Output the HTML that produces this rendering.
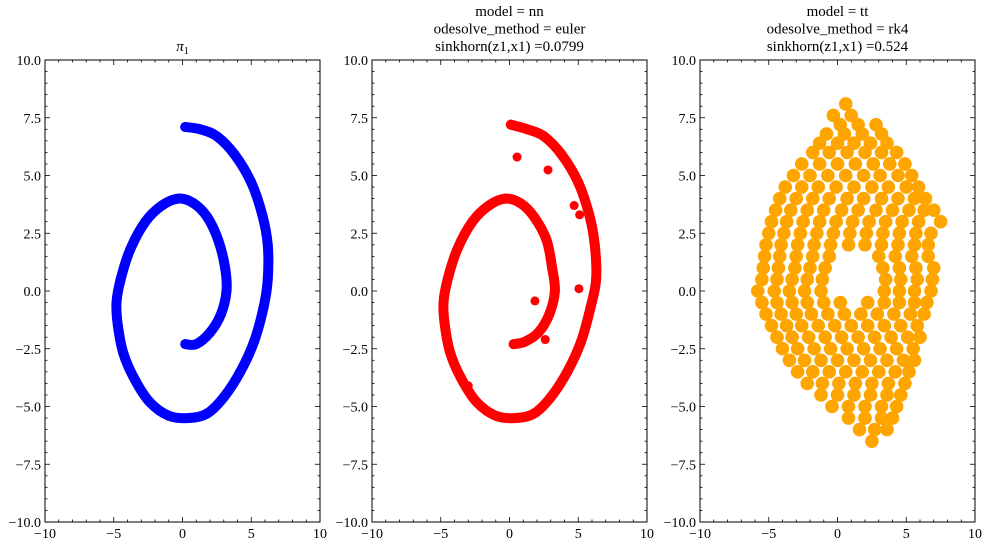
<!DOCTYPE html>
<html><head><meta charset="utf-8"><style>
body{margin:0;background:#fff}
svg{display:block;font-family:"Liberation Serif","DejaVu Serif",serif}
</style></head><body>
<svg id="fig" width="987" height="544" viewBox="0 0 987 544"></svg>
<script>
// ---- data ----
const xTicks=[-10,-5,0,5,10];
const yTicks=[-10,-7.5,-5,-2.5,0,2.5,5,7.5,10];
const yTickLabels=["\u221210.0","\u22127.5","\u22125.0","\u22122.5","0.0","2.5","5.0","7.5","10.0"];
const xTickLabels=["\u221210","\u22125","0","5","10"];
const spiralX=[0.2,1,2,2.8,3.2,3.1,2.6,1.8,0.8,-0.3,-1.5,-2.7,-3.8,-4.5,-4.8,-4.7,-4.3,-3.5,-2.4,-1,0.5,1.8,3,4.2,5.2,5.9,6.2,6.2,5.8,5,3.8,2.5,1.3,0.2];
const spiralY=[-2.3,-2.3,-1.8,-1.0,0,1.0,2.2,3.2,3.8,4.0,3.7,3.0,1.8,0.5,-0.5,-1.5,-2.7,-3.8,-4.8,-5.4,-5.5,-5.3,-4.6,-3.5,-2.2,-0.7,0.5,2,3.3,4.7,5.9,6.7,7.0,7.1];
const nnX=[0.3,1.1,2.1,2.9,3.3,3.1,2.7,1.8,0.8,-0.3,-1.5,-2.7,-3.8,-4.5,-4.8,-4.7,-4.3,-3.5,-2.4,-1,0.5,1.8,3,4.2,5.2,5.9,6.3,6.2,5.8,5,3.8,2.5,1.3,0.1];
const nnY=[-2.3,-2.2,-1.8,-1.0,0,1.0,2.2,3.2,3.8,4.0,3.7,3.0,1.8,0.5,-0.5,-1.5,-2.7,-3.8,-4.8,-5.4,-5.5,-5.3,-4.6,-3.5,-2.2,-0.7,0.5,2,3.3,4.7,5.9,6.7,7.0,7.2];
const nnOutX=[0.55,2.8,1.85,5.05,-3.0,2.6,4.7,5.1,2.65];
const nnOutY=[5.8,5.24,-0.43,0.1,-4.1,-2.1,3.7,3.3,2.35];
const ttRowsY=[8.1,7.6,7.2,6.8,6.4,6.0,5.5,5.0,4.5,4.0,3.5,3.0,2.5,2.0,1.5,1.0,0.5,0.0,-0.5,-1.0,-1.5,-2.0,-2.5,-3.0,-3.5,-4.0,-4.5,-5.0,-5.5,-6.0,-6.5];
const ttRowsX=[[0.6],[-0.3,1.0],[0.2,1.5,2.8],[-0.8,0.5,1.8,3.2],[-1.3,0,1.2,2.4,3.6],[-1.8,-0.6,0.7,2,3.2,4.3],[-2.6,-1.3,0,1.3,2.6,3.8,4.9],[-3.2,-2,-0.7,0.6,1.9,3.1,4.4,5.4],[-3.8,-2.6,-1.4,-0.1,1.2,2.5,3.7,5,5.9],[-4.2,-3,-1.8,-0.6,0.7,1.9,3.2,4.4,5.6,6.4],[-4.5,-3.4,-2.2,-1,0.3,1.5,2.8,4,5.2,6.3,7],[-4.8,-3.7,-2.5,-1.3,-0.1,1.1,2.3,3.5,4.7,5.9,7.5],[-5,-3.9,-2.7,-1.5,-0.3,0.9,2.1,3.3,4.5,5.7,6.8],[-5.2,-4.1,-2.9,-1.7,-0.5,0.8,2.0,3.2,4.4,5.6,6.6],[-5.3,-4.2,-3,-1.8,-0.6,3,4.2,5.4,6.6],[-5.4,-4.3,-3.1,-2,-0.9,3.3,4.5,5.7,7],[-5.5,-4.4,-3.3,-2.2,-1.1,3.5,4.6,5.8,6.9],[-5.8,-4.6,-3.5,-2.4,-1.2,3.4,4.5,5.6,6.8],[-5.5,-4.4,-3.3,-2.2,-1.0,0.2,2.2,3.4,4.5,5.6,6.5],[-5.2,-4.1,-3,-1.9,-0.7,0.5,1.7,2.9,4.1,5.3,6.3],[-4.8,-3.7,-2.6,-1.4,-0.2,1,2.2,3.4,4.6,5.8],[-4.4,-3.3,-2.1,-0.9,0.3,1.5,2.7,3.9,5.1,6],[-4,-2.9,-1.7,-0.5,0.7,1.9,3.1,4.3,5.5],[-3.5,-2.4,-1.2,0,1.2,2.4,3.6,4.8,5.6],[-2.9,-1.8,-0.6,0.6,1.8,3,4.2,5.2],[-2.2,-1.1,0.1,1.3,2.5,3.7,4.9],[-1.2,0,1.2,2.4,3.6,4.6],[-0.4,0.8,2,3.2,4.3],[0.8,2,3.2,4],[1.6,2.7,3.6],[2.5]];

const NS="http://www.w3.org/2000/svg";
const svg=document.getElementById('fig');
function el(t,a,p){const e=document.createElementNS(NS,t);for(const k in a)e.setAttribute(k,a[k]);(p||svg).appendChild(e);return e;}
const panels=[{l:45,name:'pi1',titles:[]},{l:372,name:'nn',titles:['model = nn','odesolve_method = euler','sinkhorn(z1,x1) =0.0799']},{l:700,name:'tt',titles:['model = tt','odesolve_method = rk4','sinkhorn(z1,x1) =0.524']}];
const T=60,B=522,W=275;
panels.forEach((p,i)=>{
  const g=el('g',{});
  
  
  const sx=v=>p.l+(v+10)/20*W, sy=v=>B-(v+10)/20*(B-T);
  p.sx=sx;p.sy=sy;p.g=g;
  for(let v=-10;v<=10;v+=1){const x=sx(v),len=(v%5===0)?5:2.5;
    el('line',{x1:x,x2:x,y1:B,y2:B-len,stroke:'#000','stroke-width':0.8},g);
    el('line',{x1:x,x2:x,y1:T,y2:T+len,stroke:'#000','stroke-width':0.8},g);}
  for(let v=-10;v<=10;v+=0.5){const y=sy(v),len=(Math.abs(v%2.5)<1e-9)?5:2.5;
    el('line',{x1:p.l,x2:p.l+len,y1:y,y2:y,stroke:'#000','stroke-width':0.8},g);
    el('line',{x1:p.l+W,x2:p.l+W-len,y1:y,y2:y,stroke:'#000','stroke-width':0.8},g);}
  xTicks.forEach((v,k)=>{const t=el('text',{x:sx(v),y:B+16,'text-anchor':'middle','font-size':14},g);t.textContent=xTickLabels[k];
    });
  yTicks.forEach((v,k)=>{const t=el('text',{x:p.l-4,y:sy(v)+5,'text-anchor':'end','font-size':14},g);t.textContent=yTickLabels[k];
    });
  const cx=p.l+W/2;
  if(i===0){const t=el('text',{x:cx,y:51,'text-anchor':'middle','font-size':15,'font-style':'italic'},g);t.innerHTML='π<tspan font-size="10" dy="3" font-style="normal">1</tspan>';
    }
  else p.titles.forEach((s,k)=>{const t=el('text',{x:cx,y:16+k*17.5,'text-anchor':'middle','font-size':15},g);t.textContent=s;
    });
});
function smoothPath(P){
  let d='M'+P[0][0]+','+P[0][1];
  for(let i=0;i<P.length-1;i++){
    const p0=P[Math.max(0,i-1)],p1=P[i],p2=P[i+1],p3=P[Math.min(P.length-1,i+2)];
    const c1=[p1[0]+(p2[0]-p0[0])/6,p1[1]+(p2[1]-p0[1])/6];
    const c2=[p2[0]-(p3[0]-p1[0])/6,p2[1]-(p3[1]-p1[1])/6];
    d+=' C'+c1[0]+','+c1[1]+' '+c2[0]+','+c2[1]+' '+p2[0]+','+p2[1];
  }
  return d;
}
function spiral(p,xs,ys,color,name,w){
  const g=el('g',{},p.g);
  
  
  const P=xs.map((x,k)=>[p.sx(x),p.sy(ys[k])]);
  el('path',{d:smoothPath(P),fill:'none',stroke:color,'stroke-width':w,'stroke-linecap':'round','stroke-linejoin':'round'},g);
  xs.forEach((x,k)=>{const c=el('circle',{cx:p.sx(x),cy:p.sy(ys[k]),r:w/2,fill:color},g);
    });
}
spiral(panels[0],spiralX,spiralY,'#0000ff','pi1-spiral',10);
spiral(panels[1],nnX,nnY,'#ff0000','nn-spiral',10);
nnOutX.forEach((x,k)=>{const c=el('circle',{cx:panels[1].sx(x),cy:panels[1].sy(nnOutY[k]),r:4.5,fill:'#ff0000'},panels[1].g);
  });
ttRowsY.forEach((y,r)=>{ttRowsX[r].forEach(x=>{const c=el('circle',{cx:panels[2].sx(x),cy:panels[2].sy(y),r:6.8,fill:'#ffa500'},panels[2].g);
  });});
panels.forEach(p=>{const r=el('rect',{x:p.l,y:T,width:W,height:B-T,fill:'none',stroke:'#000','stroke-width':1},p.g);
  });
</script>
</body></html>
